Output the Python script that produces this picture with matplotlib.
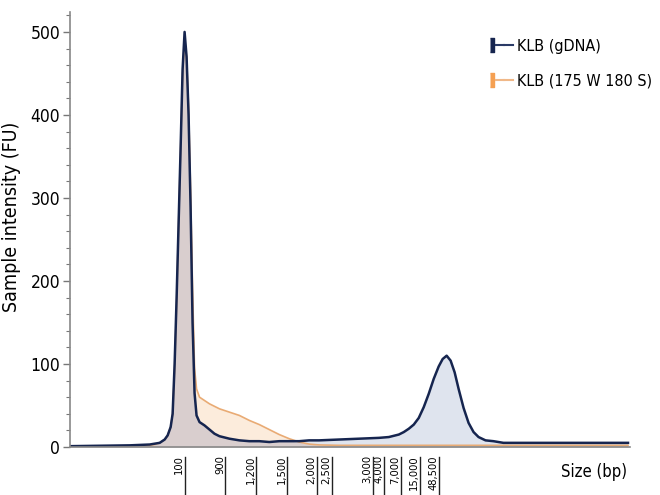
import numpy as np
import matplotlib
matplotlib.use("Agg")
import matplotlib.pyplot as plt
from matplotlib.lines import Line2D
from matplotlib.legend_handler import HandlerTuple
from matplotlib.transforms import ScaledTranslation

plt.rcParams['font.family'] = ['DejaVu Sans']
plt.rcParams['font.stretch'] = 'condensed'

# --- datos (posicion de migracion vs intensidad) ---
posicion = [70, 100, 130, 150, 155, 160, 165, 168, 171, 173, 175, 177, 179, 181, 183,
            185, 187, 189, 191, 193, 195, 197, 200, 205, 210, 215, 220, 230, 240, 250,
            260, 270, 280, 290, 300, 310, 320, 340, 360, 380, 390, 400, 405, 410, 415,
            420, 425, 430, 435, 440, 444, 448, 452, 456, 460, 465, 470, 475, 480, 487,
            495, 505, 520, 560, 600, 630]
gdna = [1, 1.5, 2, 3, 4, 5, 9, 14, 24, 40, 100, 180, 270, 360, 455,
        500, 470, 400, 290, 150, 65, 38, 30, 26, 21, 16, 13, 10, 8, 7,
        7, 6, 7, 7, 7, 8, 8, 9, 10, 11, 12, 15, 18, 22, 27,
        35, 48, 64, 82, 97, 106, 110, 104, 90, 70, 47, 29, 18, 12, 8,
        7, 5, 5, 5, 5, 5]
sheared = [1, 1, 1.5, 2, 3, 5, 9, 14, 24, 40, 95, 175, 270, 360, 450,
           492, 470, 410, 310, 190, 95, 70, 60, 56, 52, 49, 46, 42, 38, 32,
           27, 21, 15, 10, 6, 3.5, 2.5, 2, 2, 2, 2, 2, 2, 2, 2,
           2, 2, 2, 2, 2, 2, 2, 2, 2, 2, 2, 2, 2, 2, 2,
           2, 2, 2, 2, 2, 2]

# escalera de tamanos (marcador)
ladder_pos = [185, 226, 257, 288, 318, 333, 374, 385, 402, 421, 440]
ladder_lbl = ['100', '900', '1,200', '1,500', '2,000', '2,500',
              '3,000', '4,000', '7,000', '15,000', '48,500']

x = np.array(posicion, dtype=float)
g = np.array(gdna, dtype=float)
s = np.array(sheared, dtype=float)

navy = '#16254f'
orange = '#e9ab74'

fig = plt.figure(figsize=(6.6, 4.95), dpi=100)
ax = fig.add_axes([70 / 660, 1 - 447 / 495, 560 / 660, 435 / 495])

# rellenos
ax.fill_between(x, 0, np.minimum(g, s), color='#d9cece', lw=0)
ax.fill_between(x, s, g, where=g >= s, interpolate=True, color='#dfe4ee', lw=0)
ax.fill_between(x, g, s, where=s > g, interpolate=True, color='#fcecdc', lw=0)

ax.plot(x, s, color=orange, lw=1.2)
ax.plot(x, g, color=navy, lw=1.8)

ax.set_xlim(70, 632)
ax.set_ylim(0, 524)

# eje y
ax.set_yticks([0, 100, 200, 300, 400, 500])
ax.set_yticks(np.arange(0, 521, 20), minor=True)
ax.tick_params(axis='y', labelsize=12.5, length=5, width=1, color='#777777', pad=2)
ax.tick_params(axis='y', which='minor', length=3, width=0.8, color='#777777')
ax.set_ylabel('Sample intensity (FU)', fontsize=14)
ax.yaxis.set_label_coords(-0.088, 0.53)

# eje x con la escalera
ax.set_xticks(ladder_pos, ladder_lbl, rotation=90, fontsize=8)
ax.tick_params(axis='x', length=0, pad=6)
for lbl in ax.get_xticklabels():
    lbl.set_transform(lbl.get_transform() + ScaledTranslation(-0.055, 0, fig.dpi_scale_trans))
for p in ladder_pos:
    ax.plot([p, p], [-0.023, -0.11], color='#222222', lw=1,
            transform=ax.get_xaxis_transform(), clip_on=False)
ax.text(0.995, -0.058, 'Size (bp)', transform=ax.transAxes, ha='right', va='center', fontsize=12)

for side in ['top', 'right']:
    ax.spines[side].set_visible(False)
ax.spines['left'].set_color('#888888')
ax.spines['bottom'].set_color('#888888')
ax.spines['left'].set_linewidth(1.2)
ax.spines['bottom'].set_linewidth(1.2)

# leyenda
rect = [(-0.35, -1), (0.35, -1), (0.35, 1), (-0.35, 1)]
h1 = (Line2D([], [], ls='none', marker=rect, markersize=10, color=navy),
      Line2D([], [], color='#2a3a66', lw=1.5), Line2D([], [], color='#2a3a66', lw=1.5))
h2 = (Line2D([], [], ls='none', marker=rect, markersize=10, color='#f5a052'),
      Line2D([], [], color='#f0b888', lw=1.5), Line2D([], [], color='#f0b888', lw=1.5))
ax.legend([h1, h2], ['KLB (gDNA)', 'KLB (175 W 180 S)'],
          handler_map={tuple: HandlerTuple(ndivide=None, pad=0)},
          loc='upper left', bbox_to_anchor=(0.746, 0.938), frameon=False,
          fontsize=11.5, handlelength=1.55, handletextpad=0.3, labelspacing=1.25,
          borderpad=0, borderaxespad=0)

fig.savefig('out.png', dpi=100)
